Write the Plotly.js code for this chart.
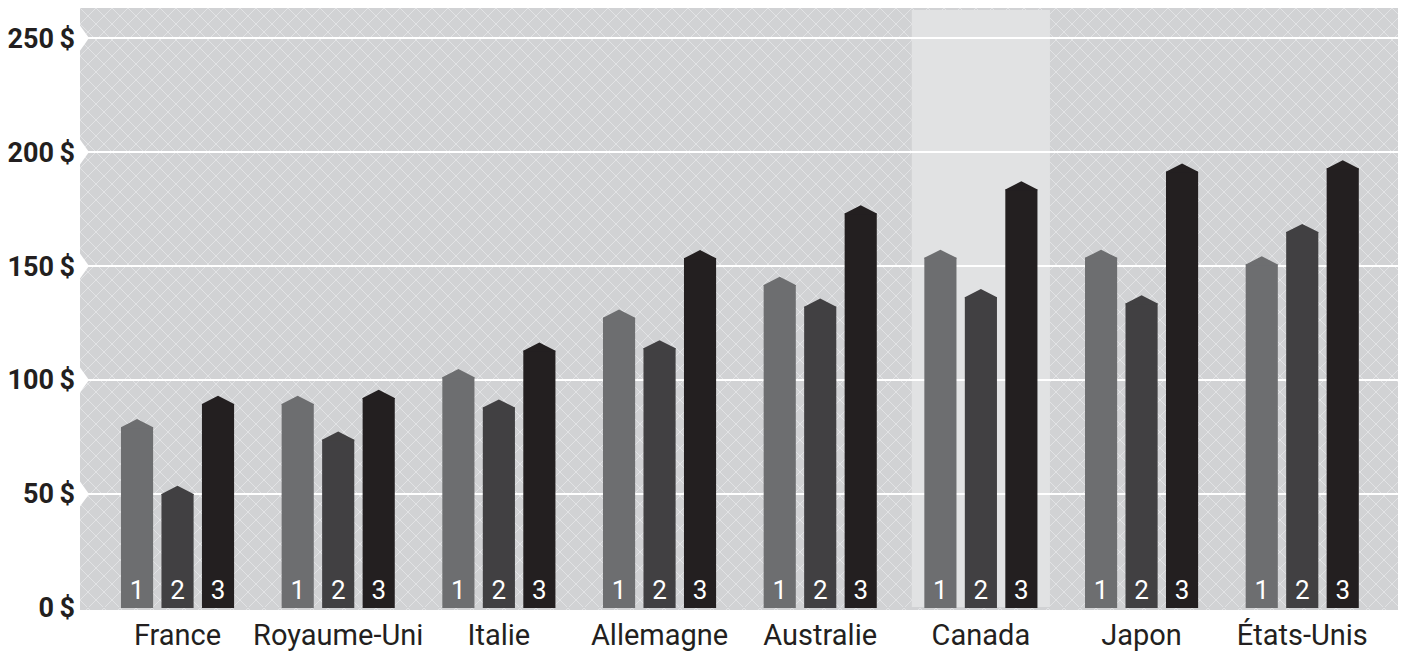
<!DOCTYPE html>
<html lang="fr">
<head>
<meta charset="utf-8">
<title>Comparaison par pays</title>
<script src="https://cdn.plot.ly/plotly-3.0.1.min.js"></script>
<style>
  html, body { margin: 0; padding: 0; background: #ffffff; }
  #chart { width: 1401px; height: 661px; }
</style>
</head>
<body>
<div id="chart"></div>
<script>
// Pays (catégories de l'axe horizontal)
const countries = ['France', 'Royaume-Uni', 'Italie', 'Allemagne', 'Australie', 'Canada', 'Japon', 'États-Unis'];
// Pays mis en évidence par une bande claire
const highlighted = 'Canada';

// Valeurs des trois séries, en dollars
const serie1 = [79.3, 89.5, 101.2, 127.3, 141.7, 153.6, 153.6, 150.7];
const serie2 = [50.0, 73.8, 87.9, 113.9, 132.2, 136.3, 133.6, 164.9];
const serie3 = [89.5, 92.1, 112.9, 153.4, 173.1, 183.6, 191.4, 192.8];

// Étiquettes des séries (inscrites au pied des barres)
const seriesLabels = ['1', '2', '3'];

// Graduations de l'axe vertical
const yTickVals = [0, 50, 100, 150, 200, 250];
const yTickText = ['0\u2009$', '50\u2009$', '100\u2009$', '150\u2009$', '200\u2009$', '250\u2009$'];

// ---- mise en forme ----
const seriesValues = [serie1, serie2, serie3];
const seriesColors = ['#6d6e70', '#414042', '#231f20'];
const textColor = '#231f20';
const plotBg = '#d1d2d4';

const BAR_W = 0.2;      // largeur d'une barre (unités de catégorie)
const STEP = 0.252;     // écart entre centres de barres d'un même groupe
const TIP = 3.6;        // hauteur de la pointe au sommet des barres (unités de l'axe)

const X_RANGE = [-0.607, 7.596];
const Y_RANGE = [-0.88, 263.2];

const xIdx = countries.map((_, i) => i);

const traces = [];
seriesValues.forEach((vals, k) => {
  const shift = (k - 1) * STEP;
  // corps de la barre
  traces.push({
    type: 'bar',
    x: xIdx,
    y: vals,
    offset: shift - BAR_W / 2,
    width: BAR_W,
    marker: { color: seriesColors[k], line: { width: 0 } },
    text: vals.map(() => seriesLabels[k]),
    textposition: 'inside',
    insidetextanchor: 'start',
    textangle: 0,
    constraintext: 'none',
    insidetextfont: { family: 'Roboto', size: 26, color: '#ffffff' },
    hoverinfo: 'skip',
    showlegend: false
  });
  // pointe triangulaire au-dessus de chaque barre
  const tx = [], ty = [];
  vals.forEach((v, i) => {
    const c = i + shift;
    tx.push(c - BAR_W / 2, c - BAR_W / 2, c, c + BAR_W / 2, c + BAR_W / 2, null);
    ty.push(v - 0.4, v, v + TIP, v, v - 0.4, null);
  });
  traces.push({
    type: 'scatter',
    mode: 'lines',
    x: tx,
    y: ty,
    fill: 'toself',
    fillcolor: seriesColors[k],
    line: { width: 0, color: seriesColors[k] },
    connectgaps: false,
    hoverinfo: 'skip',
    showlegend: false
  });
});

// motif quadrillé en diagonale du fond de la zone de tracé
const PW = 1318, PH = 602;
const hatch =
  '<svg xmlns="http://www.w3.org/2000/svg" width="' + PW + '" height="' + PH + '" viewBox="0 0 ' + PW + ' ' + PH + '">' +
  '<defs><pattern id="h" width="16" height="16" patternUnits="userSpaceOnUse">' +
  '<path d="M0,0L16,16M16,0L0,16" stroke="#e2e3e5" stroke-width="1" fill="none"/>' +
  '</pattern></defs>' +
  '<rect width="100%" height="100%" fill="' + plotBg + '"/>' +
  '<rect width="100%" height="100%" fill="url(#h)"/>' +
  '</svg>';

const hi = countries.indexOf(highlighted);
const shapes = [
  {
    type: 'rect', layer: 'below',
    xref: 'x', yref: 'y',
    x0: hi - 0.43, x1: hi + 0.43,
    y0: 0.4, y1: 262.3,
    fillcolor: '#e1e2e3',
    line: { width: 0 }
  }
];
// encoches blanches à gauche de chaque ligne de grille
const NOTCH_D = 9 / PW;   // profondeur (fraction de la largeur)
const NOTCH_H = 5.5;      // demi-hauteur (unités de l'axe)
yTickVals.filter(v => v > 0).forEach(v => {
  shapes.push({
    type: 'path', layer: 'below',
    xref: 'paper', yref: 'y',
    path: 'M 0,' + (v + NOTCH_H) + ' L ' + NOTCH_D + ',' + v + ' L 0,' + (v - NOTCH_H) + ' Z',
    fillcolor: '#ffffff',
    line: { width: 0 }
  });
});

const layout = {
  width: 1401,
  height: 661,
  margin: { l: 80, r: 3, t: 8, b: 51, pad: 0 },
  paper_bgcolor: '#ffffff',
  plot_bgcolor: plotBg,
  barmode: 'overlay',
  showlegend: false,
  font: { family: 'Roboto', color: textColor },
  images: [{
    source: 'data:image/svg+xml;charset=utf-8,' + encodeURIComponent(hatch),
    xref: 'paper', yref: 'paper',
    x: 0, y: 1, sizex: 1, sizey: 1,
    xanchor: 'left', yanchor: 'top',
    sizing: 'stretch', layer: 'below'
  }],
  shapes: shapes,
  xaxis: {
    type: 'linear',
    range: X_RANGE,
    tickmode: 'array',
    tickvals: xIdx,
    ticktext: countries,
    showgrid: false,
    zeroline: false,
    showline: false,
    ticks: '',
    ticklabelstandoff: 5,
    tickfont: { family: 'Roboto', size: 29, color: textColor },
    fixedrange: true
  },
  yaxis: {
    range: Y_RANGE,
    tickmode: 'array',
    tickvals: yTickVals,
    ticktext: yTickText,
    showgrid: true,
    gridcolor: '#ffffff',
    gridwidth: 2,
    zeroline: true,
    zerolinecolor: plotBg,
    zerolinewidth: 1,
    showline: false,
    ticks: '',
    ticklabelstandoff: 4,
    tickfont: { family: 'Roboto', size: 27, weight: 700, color: textColor },
    fixedrange: true
  }
};

Plotly.newPlot('chart', traces, layout, { displayModeBar: false, staticPlot: true });
</script>
</body>
</html>
